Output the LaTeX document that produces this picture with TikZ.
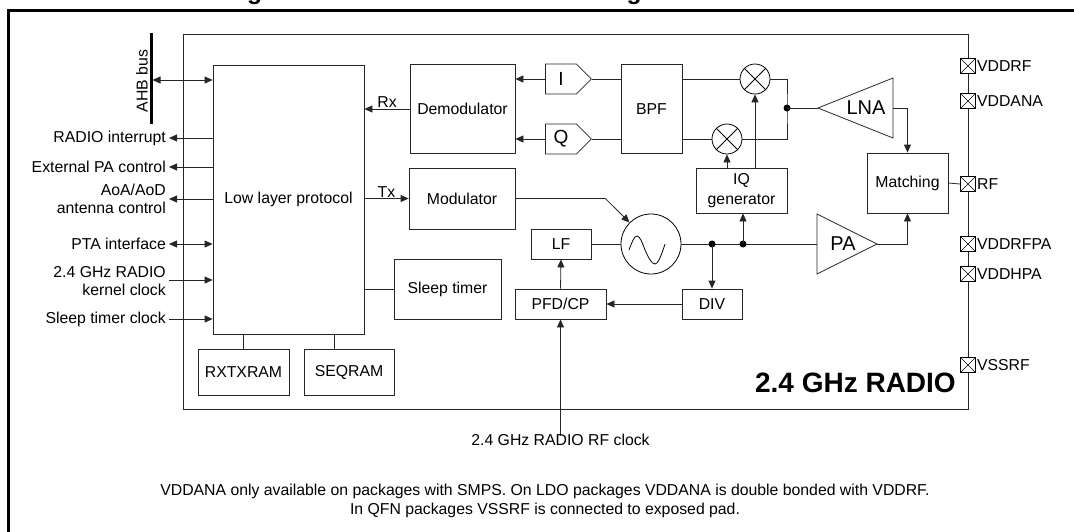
\documentclass[tikz,border=0pt]{standalone}
\usepackage{fontspec}
\setmainfont{Liberation Sans}
\usepackage{tikz}
\usetikzlibrary{positioning, arrows.meta, shapes.symbols}

\newcommand{\lbl}{\fontsize{15.8}{18.5}\selectfont}
\newcommand{\biglbl}{\fontsize{20}{22}\selectfont}

\tikzset{
  wire/.style={line width=0.8pt, draw=black!85},
  blk/.style={draw=black!85, line width=0.8pt, inner sep=2pt, align=center, font=\lbl},
  arr/.style={wire, -{Triangle[length=8pt,width=7pt]}},
  biarr/.style={wire, {Triangle[length=8pt,width=7pt]}-{Triangle[length=8pt,width=7pt]}},
  txt/.style={font=\lbl, inner sep=3pt},
  dot/.style={circle, fill=black, inner sep=0pt, minimum size=7pt},
  mix/.style={circle, draw=black, line width=0.8pt, minimum size=30pt, inner sep=0pt},
  sig/.style={signal, draw=black!85, line width=0.8pt, minimum width=46pt, minimum height=30pt,
    inner sep=0pt, font=\fontsize{19}{20}\selectfont},
  pad/.style={draw=black, line width=0.8pt, fill=white, minimum size=15pt, inner sep=0pt,
    path picture={\draw[line width=0.6pt] (path picture bounding box.north west) -- (path picture bounding box.south east)
      (path picture bounding box.south west) -- (path picture bounding box.north east);}},
}

\begin{document}
\begin{tikzpicture}[x=1pt, y=-1pt]
    \useasboundingbox (0,0) rectangle (1074,531);
    \clip (0,0) rectangle (1074,531);

    % frame and (cut) title
    \draw[line width=3pt] (8,540) -- (8,10) -- (1080,10);
    \node[anchor=south west, inner sep=0pt, font=\fontsize{24.6}{26}\selectfont\bfseries] (title) at (225,5)
        {Figure 9. 2.4 GHz RADIO block diagram};

    % radio block
    \node[blk, minimum width=785pt, minimum height=375pt] (radio) at (575.5,221.5) {};
    \node[anchor=base east, inner sep=0pt, font=\fontsize{28}{30}\selectfont\bfseries] (radiolbl) at (956,392) {2.4 GHz RADIO};

    % digital part
    \node[blk, minimum width=151pt, minimum height=269pt] (llp) at (288.5,199.5) {Low layer protocol};
    \node[blk, minimum width=91pt, minimum height=46pt] (rxtx) at (243.5,372) {RXTXRAM};
    \node[blk, minimum width=90pt, minimum height=46pt] (seq) at (349,372) {SEQRAM};
    \node[blk, minimum width=105pt, minimum height=89pt] (demod) at (462.5,109) {Demodulator};
    \node[blk, minimum width=106pt, minimum height=61pt] (modul) at (462,198.5) {Modulator};
    \node[blk, minimum width=107pt, minimum height=60pt] (sleep) at (447.5,289) {Sleep timer};

    % analog part
    \node[sig, anchor=west] (ich) at (545,79) {I};
    \node[sig, anchor=west] (qch) at (545,139) {Q};
    \node[blk, minimum width=61pt, minimum height=89pt] (bpf) at (651.5,109) {BPF};
    \node[mix] (mixI) at (755,79) {};
    \node[mix] (mixQ) at (727,139) {};
    \foreach \m in {mixI, mixQ}
        \draw[line width=0.8pt] (\m.north east) -- (\m.south west) (\m.north west) -- (\m.south east);
    \node[blk, minimum width=91pt, minimum height=45pt, font=\fontsize{15.8}{20.5}\selectfont] (iqgen) at (741.5,190.5) {IQ\\generator};
    \node[blk, minimum width=81pt, minimum height=60pt] (match) at (907.5,183) {Matching};
    \node[blk, minimum width=60pt, minimum height=30pt] (lf) at (561,244) {LF};
    \node[blk, minimum width=91pt, minimum height=30pt] (pfd) at (560.5,304) {PFD/CP};
    \node[blk, minimum width=60pt, minimum height=30pt] (div) at (712,304) {DIV};
    \node[circle, draw=black, line width=0.8pt, minimum size=60pt, inner sep=0pt] (osc) at (651,244) {};
    \draw[line width=0.8pt] ([xshift=-22pt, yshift=-6pt]osc.center) sin ++(8,-14) cos ++(8,14)
        sin ++(10,14) cos ++(8,-14) -- ++(2,-6);

    % amplifiers
    \draw[wire] (893,78) -- (818,108) coordinate (lnain) -- (893,138) -- cycle;
    \coordinate (lnaout) at (893,108);
    \node[font=\biglbl, inner sep=0pt] (lna) at (866,108) {LNA};
    \draw[wire] (817,214) -- (877,244) coordinate (paout) -- (817,274) -- cycle;
    \coordinate (pain) at (817,244);
    \node[font=\biglbl, inner sep=0pt] (pa) at (843,244) {PA};

    % pads
    \node[pad, label={[txt, inner sep=1pt]east:VDDRF}] (vddrf) at (968,66) {};
    \node[pad, label={[txt, inner sep=1pt]east:VDDANA}] (vddana) at (968,101) {};
    \node[pad, label={[txt, inner sep=1pt]east:RF}] (rf) at (968,184) {};
    \node[pad, label={[txt, inner sep=1pt]east:VDDRFPA}] (vddrfpa) at (968,244) {};
    \node[pad, label={[txt, inner sep=1pt]east:VDDHPA}] (vddhpa) at (968,274) {};
    \node[pad, label={[txt, inner sep=1pt]east:VSSRF}] (vssrf) at (968,365) {};

    % AHB bus
    \draw[line width=3pt] (151,33) -- (151,124);
    \node[txt, rotate=90, anchor=south, inner sep=1pt] (ahblbl) at (149,81) {AHB bus};
    \coordinate (ahb) at (152.5,80);
    \draw[biarr] (ahb) -- (ahb -| llp.west);

    % signals on the left
    \node[txt, anchor=east] (irq) at (169,138) {RADIO interrupt};
    \node[txt, anchor=east] (extpa) at (169,167) {External PA control};
    \node[txt, anchor=east, align=right] (aoa) at (169,199) {AoA/AoD\\antenna control};
    \node[txt, anchor=east] (pta) at (169,244) {PTA interface};
    \node[txt, anchor=east, align=right] (kclk) at (169,281) {2.4 GHz RADIO\\kernel clock};
    \node[txt, anchor=east] (sclk) at (169,319) {Sleep timer clock};
    \draw[arr] (irq.east -| llp.west) -- (irq.east);
    \draw[arr] (extpa.east -| llp.west) -- (extpa.east);
    \draw[arr] (aoa.east -| llp.west) -- (aoa.east);
    \draw[biarr] (pta.east) -- (pta.east -| llp.west);
    \draw[arr] ([yshift=1pt]kclk.east) -- ([yshift=1pt]kclk.east -| llp.west);
    \draw[arr] (sclk.east) -- (sclk.east -| llp.west);

    % digital links
    \draw[arr] (demod.west) -- (demod.west -| llp.east) node[midway, above, txt, inner sep=1pt] {Rx};
    \draw[arr] (modul.west -| llp.east) -- (modul.west) node[midway, above, txt, inner sep=1pt] {Tx};
    \draw[wire] (sleep.west) -- (sleep.west -| llp.east);
    \draw[wire] (rxtx.north) -- (rxtx.north |- llp.south);
    \draw[wire] ([xshift=-15pt]seq.north) -- ([xshift=-15pt]seq.north |- llp.south);

    % receive chain
    \draw[arr] (ich.west) -- (ich.west -| demod.east);
    \draw[arr] (qch.west) -- (qch.west -| demod.east);
    \draw[wire] (ich.east) -- (ich.east -| bpf.west);
    \draw[wire] (qch.east) -- (qch.east -| bpf.west);
    \draw[wire] (bpf.east |- mixI) -- (mixI.west);
    \draw[wire] (bpf.east |- mixQ) -- (mixQ.west);
    \coordinate (rxsplit) at (787,108);
    \draw[wire] (mixI.east) -| (rxsplit) |- (mixQ.east);
    \node[dot] at (rxsplit) {};
    \draw[wire] (rxsplit) -- (lnain);
    \draw[arr] (lnaout) -| (match.north);
    \draw[arr] (iqgen.north -| mixQ) -- (mixQ.south);
    \draw[arr] (iqgen.north -| mixI) -- (mixI.south);

    % synthesizer and transmit chain
    \draw[arr] (modul.east) -- ++(90,0) -- (osc.north west);
    \draw[wire] (lf.east) -- (osc.west);
    \draw[wire] (osc.east) -- (pain);
    \coordinate (divtap) at (712,244);
    \coordinate (iqtap) at (743,244);
    \node[dot] at (divtap) {};
    \node[dot] at (iqtap) {};
    \draw[arr] (divtap) -- (div.north);
    \draw[arr] (iqtap) -- (iqtap |- iqgen.south);
    \draw[arr] (div.west) -- (pfd.east);
    \draw[arr] (pfd.north) -- (lf.south);
    \draw[arr] (paout) -| (match.south);
    \draw[wire] (match.east) -- (rf.west);

    \node[txt] (rfclk) at (560.5,440) {2.4 GHz RADIO RF clock};
    \draw[arr] ([yshift=-5pt]rfclk.north) -- (pfd.south);

    % footnote
    \node[txt, align=center, font=\fontsize{15.8}{19}\selectfont] (note) at (545,500.5)
        {VDDANA only available on packages with SMPS. On LDO packages VDDANA is double bonded with VDDRF.\\
         In QFN packages VSSRF is connected to exposed pad.};
\end{tikzpicture}
\end{document}
